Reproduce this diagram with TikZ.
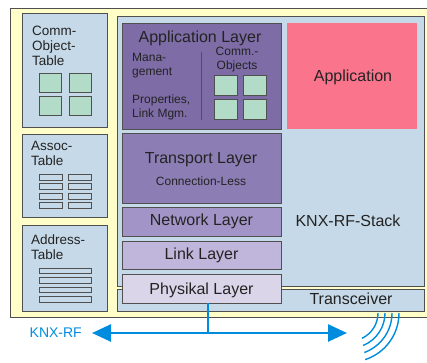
\documentclass[tikz,border=0pt]{standalone}
\usepackage{fontspec}
\setmainfont{Liberation Sans}
\usetikzlibrary{arrows.meta}

\definecolor{frameyellow}{RGB}{255,253,200}
\definecolor{stackblue}{RGB}{198,217,232}
\definecolor{objgreen}{RGB}{178,220,200}
\definecolor{applayer}{RGB}{125,108,166}
\definecolor{translayer}{RGB}{141,125,181}
\definecolor{netlayer}{RGB}{163,148,199}
\definecolor{linklayer}{RGB}{192,181,218}
\definecolor{phylayer}{RGB}{219,213,233}
\definecolor{apppink}{RGB}{250,116,140}
\definecolor{rfblue}{RGB}{0,140,222}
\definecolor{edgegray}{RGB}{80,80,80}
\definecolor{txtgray}{RGB}{35,35,35}

\newcommand\layerfont{\fontsize{16}{19}\selectfont}
\newcommand\tablefont{\fontsize{13.5}{15}\selectfont}
\newcommand\notefont{\fontsize{12}{13.5}\selectfont}

\begin{document}
\begin{tikzpicture}[x=1pt,y=-1pt,
box/.style={draw=edgegray,line width=0.8pt},
layer/.style={box,rectangle,anchor=north west,minimum width=159pt,
  inner sep=0pt,outer sep=0pt,text=txtgray,font=\layerfont},
label/.style={text=txtgray,inner sep=0pt},
cell/.style={draw=edgegray,line width=0.8pt,fill=objgreen},
bar/.style={draw=edgegray,line width=0.8pt,fill=stackblue},
rfline/.style={draw=rfblue,line width=2.6pt},
wave/.style={draw=rfblue,line width=1.4pt}]
\useasboundingbox (0,0) rectangle (427,362);

% frame and stack
\draw[box,fill=frameyellow] (10,8) rectangle (432,317);
\draw[box,fill=stackblue] (117,16) rectangle (424,286);
\draw[box,fill=stackblue] (117,289) rectangle (424,311);
\fill[apppink] (287,23) rectangle (417,129);

% tables on the left (base = last line)
\draw[box,fill=stackblue] (22,13) rectangle (107,127);
\draw[box,fill=stackblue] (22,134) rectangle (107,217);
\draw[box,fill=stackblue] (22,225) rectangle (107,311);
\node[label,font=\tablefont,align=left,anchor=base west] (commtab) at (32,65) {Comm-\\Object-\\Table};
\node[label,font=\tablefont,align=left,anchor=base west] (assoctab) at (31,165) {Assoc-\\Table};
\node[label,font=\tablefont,align=left,anchor=base west] (addrtab) at (31,259) {Address-\\Table};
\foreach \x in {39,69}
  \foreach \y in {73,96}
    \draw[cell] (\x,\y) rectangle ++(22,19.5);
\foreach \x in {39,68}
  \foreach \y in {174,183.5,193,202.5}
    \draw[bar] (\x,\y) rectangle ++(23,6);
\foreach \y in {268,277.5,287,296.5}
  \draw[bar] (39,\y) rectangle ++(52,5.5);

% layers
\node[layer,fill=applayer,minimum height=106pt] (applay) at (122,23) {};
\node[layer,fill=translayer,minimum height=70pt] (translay) at (122,133) {};
\node[layer,fill=netlayer,minimum height=29pt] (netlay) at (122,207) {Network Layer};
\node[layer,fill=linklayer,minimum height=28pt] (linklay) at (122,241) {Link Layer};
\node[layer,fill=phylayer,minimum height=29pt] (phylay) at (122,274) {};
\node[label,font=\layerfont,anchor=base] (phytext) at (phylay.center |- 0,294) {Physikal Layer};

\node[label,font=\layerfont,anchor=base] (apptitle) at (200,42) {Application Layer};
\node[label,font=\notefont,align=left,anchor=base west] (mgmt) at (132,75) {Mana-\\gement};
\node[label,font=\notefont,align=left,anchor=base west] (props) at (132,117) {Properties,\\Link Mgm.};
\draw[edgegray,line width=0.8pt] (201,52) -- (201,120);
\node[label,font=\notefont,align=center,anchor=base] (commobj) at (237,69) {Comm.-\\Objects};
\foreach \x in {214,243}
  \foreach \y in {75,99}
    \draw[cell] (\x,\y) rectangle ++(23,20);

\node[label,font=\layerfont,anchor=base] (transtitle) at (201,163) {Transport Layer};
\node[label,font=\notefont,anchor=base] (connless) at (201,185) {Connection-Less};

\node[label,font=\layerfont,anchor=base] (apptext) at (353,81) {Application};
\node[label,font=\layerfont,anchor=base] (stacktext) at (348,226) {KNX-RF-Stack};
\node[label,font=\layerfont,anchor=base] (trxtext) at (351,304) {Transceiver};

% radio link
\coordinate (rfleft) at (92,333);
\coordinate (rfright) at (347,333);
\coordinate (feed) at (208,333);
\draw[rfline,{Triangle[length=19pt,width=17pt]}-{Triangle[length=19pt,width=17pt]}] (rfleft) -- (rfright);
\draw[rfline] (feed |- phylay.south) -- (feed);
\node[text=rfblue,inner sep=0pt,font=\fontsize{14}{16}\selectfont,anchor=east] (rflabel) at (82,333) {KNX-RF};
\foreach \r/\e in {28/65,35/68,42/70,49/72}
  \draw[wave] (350+\r,313) arc[start angle=0,end angle=\e,radius=\r];

\end{tikzpicture}
\end{document}
